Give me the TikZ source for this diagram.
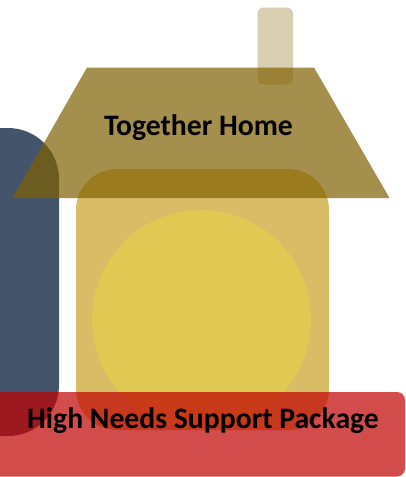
\documentclass[tikz,border=0pt]{standalone}
\usepackage{fontspec}
\setmainfont{Carlito}
\definecolor{myroof}{HTML}{7F6000}
\definecolor{mybody}{HTML}{BF9000}
\definecolor{mysun}{HTML}{FFFF00}
\definecolor{mynavy}{HTML}{44546A}
\definecolor{myred}{HTML}{C00000}
\usetikzlibrary{positioning}
\tikzset{
	roofshape/.style={fill=myroof, fill opacity=0.7}
}
\tikzset{
	chimneyshape/.style={fill=myroof, fill opacity=0.3, rounded corners=6pt}
}
\tikzset{
	bodyshape/.style={fill=mybody, fill opacity=0.6, rounded corners=41pt}
}
\tikzset{
	boldtext/.style={font=\fontsize{29.7}{32}\selectfont\bfseries, text=black, inner sep=0pt}
}
\begin{document}
\begin{tikzpicture}[x=1pt,y=-1pt]

			\clip (0,0) rectangle (405,477);

			\begin{scope}
				\fill[mynavy, rounded corners=51pt] (-50,128) rectangle (59,436);
				\fill[bodyshape] (76,169) rectangle (329,430);
				\fill[mysun, fill opacity=0.2] (201.5,319.5) circle [radius=109.5];
			\end{scope}

			\begin{scope}
				\fill[chimneyshape] (257.5,7.5) rectangle (293,84.5);
				\fill[roofshape] (87,67.5) -- (314,67.5) -- (389.5,198) -- (12.5,198) -- cycle;
			\end{scope}

			\fill[myred, fill opacity=0.7, rounded corners=8pt] (-20,392) rectangle (405,476.5);

			\node[boldtext] (together) at (198.5,128) {Together Home};
			\node[boldtext] (highneeds) at (203,420.5) {High Needs Support Package};

		\end{tikzpicture}
\end{document}
